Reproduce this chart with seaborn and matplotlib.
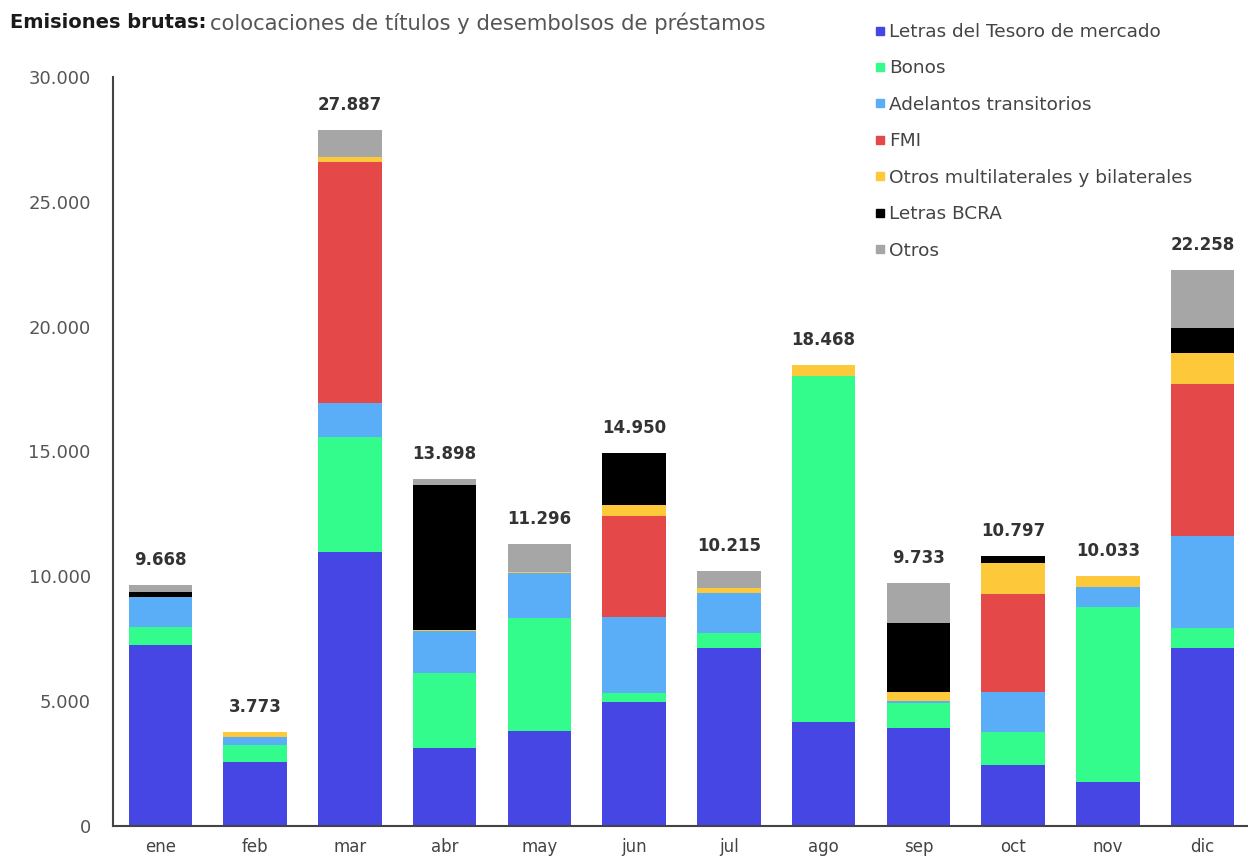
import numpy as np
import pandas as pd
import matplotlib
matplotlib.use("Agg")
import matplotlib.pyplot as plt
from matplotlib.lines import Line2D
from matplotlib.ticker import FuncFormatter, FixedLocator
import seaborn as sns

meses = ["ene", "feb", "mar", "abr", "may", "jun", "jul", "ago", "sep", "oct", "nov", "dic"]
letras_tesoro = [7250, 2575, 10974, 3110, 3817, 4978, 7116, 4153, 3913, 2443, 1774, 7116]
bonos = [720, 670, 4618, 3028, 4526, 334, 625, 13875, 1001, 1310, 7017, 825]
adelantos = [1200, 335, 1337, 1670, 1790, 3070, 1602, 0, 105, 1602, 773, 3672]
fmi = [0, 0, 9676, 0, 0, 4032, 0, 0, 0, 3932, 0, 6075]
otros_multi = [0, 193, 200, 60, 50, 440, 176, 440, 360, 1230, 469, 1266]
letras_bcra = [200, 0, 0, 5790, 0, 2096, 0, 0, 2763, 280, 0, 1001]
otros = [298, 0, 1082, 240, 1113, 0, 696, 0, 1591, 0, 0, 2303]
totales = [9668, 3773, 27887, 13898, 11296, 14950, 10215, 18468, 9733, 10797, 10033, 22258]

series = ["Letras del Tesoro de mercado", "Bonos", "Adelantos transitorios", "FMI",
          "Otros multilaterales y bilaterales", "Letras BCRA", "Otros"]
valores = [letras_tesoro, bonos, adelantos, fmi, otros_multi, letras_bcra, otros]
colores = ["#4646E4", "#33FB8C", "#5AADF7", "#E54848", "#FDC83A", "#000000", "#A6A6A6"]

sns.set_style("white")
plt.rcParams["font.family"] = ["DejaVu Sans"]

fig = plt.figure(figsize=(12.48, 8.57), dpi=100)
ax = fig.add_axes([113 / 1248, 31 / 857, 1137 / 1248, 749 / 857])

bottom = np.zeros(len(meses))
for nombre, vals, col in zip(series, valores, colores):
    df = pd.DataFrame({"mes": meses, "valor": vals})
    sns.barplot(data=df, x="mes", y="valor", order=meses, color=col, width=0.67,
                errorbar=None, bottom=bottom, ax=ax, linewidth=0, saturation=1)
    bottom = bottom + np.array(vals)

for i, t in enumerate(totales):
    ax.annotate(f"{t:,}".replace(",", "."), xy=(i, t), xytext=(0, 16),
                textcoords="offset pixels", ha="center", va="bottom",
                fontsize=12, fontweight="bold", color="#333333")

ax.set_xlim(-0.5, 11.5)
ax.set_ylim(0, 30000)
ax.set_yticks(np.arange(0, 30001, 5000))
ax.yaxis.set_major_formatter(FuncFormatter(lambda v, p: f"{int(v):,}".replace(",", ".")))
ax.set_xlabel("")
ax.set_ylabel("")
ax.xaxis.set_minor_locator(FixedLocator(np.arange(0.5, 11.5, 1)))
ax.tick_params(axis="x", which="major", length=0, labelsize=12, labelcolor="#444444", pad=9)
ax.tick_params(axis="x", which="minor", length=5, direction="in", color="#333333", width=1.2)
ax.tick_params(axis="y", which="major", length=5, direction="in", color="#333333", width=1.2,
               labelsize=13, labelcolor="#555555", pad=16)
for s in ["top", "right"]:
    ax.spines[s].set_visible(False)
for s in ["left", "bottom"]:
    ax.spines[s].set_color("#444444")
    ax.spines[s].set_linewidth(1.5)

# Title in two parts
r = fig.canvas.get_renderer()
t1 = fig.text(10 / 1248, 1 - 23 / 857, "Emisiones brutas:", fontsize=14, fontweight="bold",
              color="#1a1a1a", va="center", ha="left")
bb = t1.get_window_extent(renderer=r)
fig.text((bb.x1 + 4) / 1248, 1 - 23 / 857, "colocaciones de títulos y desembolsos de préstamos",
         fontsize=15.2, color="#555555", va="center", ha="left")

handles = [Line2D([0], [0], marker="s", linestyle="", color=c, markersize=6) for c in colores]
fig.legend(handles, series, loc="upper left", bbox_to_anchor=(875 / 1248, 1 - 23 / 857),
           frameon=False, fontsize=13.3, labelcolor="#444444", handlelength=0.5,
           handletextpad=0.25, labelspacing=1.0, borderaxespad=0, borderpad=0)

fig.savefig("out.png", dpi=100)
